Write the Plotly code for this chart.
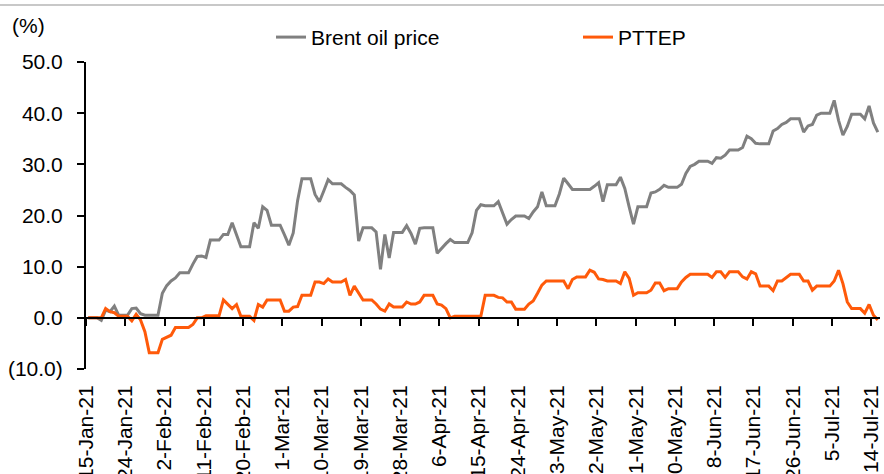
import pandas as pd
import plotly.graph_objects as go

# Daily series (weekends carried), 15-Jan-21 .. 15-Jul-21, rows = Fri..Thu weeks
start_date = "2021-01-15 12:00"
brent = [
    0.0, 0.0, 0.0, -0.5, 1.5, 1.2, 2.3,
    0.5, 0.5, 0.5, 1.8, 1.9, 0.8, 0.5,
    0.5, 0.5, 0.5, 4.8, 6.3, 7.2, 7.8,
    8.8, 8.8, 8.8, 10.5, 12.0, 12.1, 11.8,
    15.2, 15.2, 15.2, 16.3, 16.3, 18.6, 16.2,
    13.9, 13.9, 13.9, 18.6, 17.5, 21.7, 21.0,
    18.1, 18.1, 18.1, 16.2, 14.2, 16.6, 22.9,
    27.2, 27.2, 27.2, 24.1, 22.7, 24.8, 27.0,
    26.2, 26.2, 26.2, 25.5, 24.9, 24.0, 15.0,
    17.6, 17.6, 17.6, 16.8, 9.5, 16.3, 11.7,
    16.7, 16.7, 16.7, 18.0, 16.5, 14.4, 17.5,
    17.6, 17.6, 17.6, 12.6, 13.6, 14.5, 15.3,
    14.7, 14.7, 14.7, 14.7, 16.6, 21.0, 22.1,
    21.9, 21.9, 21.9, 22.7, 20.5, 18.3, 19.2,
    19.9, 19.9, 19.9, 19.4, 20.7, 21.7, 24.6,
    21.9, 21.9, 21.9, 24.2, 27.3, 26.2, 25.1,
    25.1, 25.1, 25.1, 25.1, 25.7, 26.4, 22.7,
    26.0, 26.0, 26.0, 27.5, 25.3, 21.7, 18.3,
    21.7, 21.7, 21.7, 24.4, 24.6, 25.1, 25.9,
    25.5, 25.5, 25.5, 26.1, 28.2, 29.6, 30.0,
    30.6, 30.6, 30.6, 30.2, 31.3, 31.2, 31.8,
    32.8, 32.8, 32.8, 33.3, 35.5, 35.0, 34.1,
    34.0, 34.0, 34.0, 36.5, 37.0, 37.8, 38.2,
    38.9, 38.9, 38.9, 36.3, 37.5, 37.8, 39.6,
    40.0, 40.0, 40.0, 42.5, 38.6, 35.7, 37.4,
    39.8, 39.8, 39.8, 38.9, 41.4, 38.1, 36.3,
]
pttep = [
    0.0, 0.0, 0.0, 0.0, 1.8, 1.2, 1.0,
    0.3, 0.3, 0.3, -0.6, 0.7, -0.4, -2.7,
    -6.8, -6.8, -6.8, -4.2, -3.8, -3.4, -1.9,
    -1.9, -1.9, -1.9, -1.3, 0.0, 0.0, 0.4,
    0.4, 0.4, 0.4, 3.5, 2.7, 1.8, 2.6,
    0.3, 0.3, 0.3, -0.5, 2.6, 2.1, 3.5,
    3.5, 3.5, 3.5, 1.3, 1.3, 2.1, 2.2,
    4.4, 4.4, 4.4, 7.0, 7.0, 6.7, 7.6,
    7.0, 7.0, 7.0, 7.5, 4.4, 6.2, 4.8,
    3.5, 3.5, 3.5, 2.7, 1.7, 1.3, 2.7,
    2.1, 2.1, 2.1, 3.1, 2.7, 2.7, 3.1,
    4.4, 4.4, 4.4, 2.7, 2.5, 1.8, 0.0,
    0.3, 0.3, 0.3, 0.3, 0.3, 0.3, 0.3,
    4.4, 4.4, 4.4, 4.0, 3.9, 3.1, 3.1,
    1.7, 1.7, 1.7, 2.7, 3.3, 4.8, 6.4,
    7.2, 7.2, 7.2, 7.2, 7.2, 5.7, 7.5,
    8.0, 8.0, 8.0, 9.3, 8.9, 7.6, 7.5,
    7.2, 7.2, 7.2, 6.7, 9.0, 7.7, 4.4,
    4.9, 4.9, 4.9, 5.4, 6.8, 6.8, 5.3,
    5.7, 5.7, 5.7, 7.0, 7.9, 8.5, 8.5,
    8.5, 8.5, 8.5, 7.9, 9.0, 9.0, 7.9,
    9.0, 9.0, 9.0, 8.0, 7.6, 9.0, 8.6,
    6.2, 6.2, 6.2, 5.3, 7.2, 7.2, 7.9,
    8.5, 8.5, 8.5, 7.2, 7.2, 5.4, 6.2,
    6.2, 6.2, 6.2, 7.2, 9.3, 6.7, 3.1,
    1.8, 1.8, 1.8, 0.9, 2.6, 0.5, -0.4,
]
x_tick_labels = [
    "15-Jan-21", "24-Jan-21", "2-Feb-21", "11-Feb-21", "20-Feb-21", "1-Mar-21",
    "10-Mar-21", "19-Mar-21", "28-Mar-21", "6-Apr-21", "15-Apr-21", "24-Apr-21",
    "3-May-21", "12-May-21", "21-May-21", "30-May-21", "8-Jun-21", "17-Jun-21",
    "26-Jun-21", "5-Jul-21", "14-Jul-21",
]
y_tick_vals = [-10, 0, 10, 20, 30, 40, 50]
y_tick_text = ["(10.0)", "0.0", "10.0", "20.0", "30.0", "40.0", "50.0"]
series_names = ["Brent oil price", "PTTEP"]

dates = pd.date_range(start_date, periods=len(brent), freq="D")
tick_dates = pd.to_datetime(x_tick_labels, format="%d-%b-%y")

FONT = "Liberation Sans, Arial, sans-serif"
GRAY = "#808080"
ORANGE = "#FF5A0A"

fig = go.Figure()
fig.add_trace(go.Scatter(x=dates, y=brent, mode="lines", name=series_names[0],
                         line=dict(color=GRAY, width=3), xaxis="x", yaxis="y"))
fig.add_trace(go.Scatter(x=dates, y=pttep, mode="lines", name=series_names[1],
                         line=dict(color=ORANGE, width=3), xaxis="x2", yaxis="y"))

x_range = ["2021-01-15", "2021-07-16"]
fig.update_layout(
    width=884, height=474,
    margin=dict(l=86, r=4, t=62, b=105, autoexpand=False),
    paper_bgcolor="white", plot_bgcolor="white",
    font=dict(family=FONT, size=21, color="black"),
    showlegend=True,
    legend=dict(orientation="h", x=0.233, xanchor="left", y=1.08, yanchor="middle",
                font=dict(size=21), entrywidth=262, entrywidthmode="pixels",
                bgcolor="rgba(0,0,0,0)"),
    xaxis=dict(type="date", range=x_range, tickvals=tick_dates, ticktext=x_tick_labels,
               tickangle=-90, ticks="outside", ticklen=7, tickcolor="rgba(0,0,0,0)",
               showline=False, showgrid=False, zeroline=False, automargin=False,
               tickfont=dict(size=21)),
    xaxis2=dict(type="date", range=x_range, overlaying="x", anchor="free",
                position=1/6, side="bottom", tickvals=tick_dates, showticklabels=False,
                ticks="outside", ticklen=7, tickwidth=2, tickcolor="black",
                showline=True, linecolor="black", linewidth=2, automargin=False,
                showgrid=False, zeroline=False, matches="x"),
    yaxis=dict(range=[-10, 50], tickvals=y_tick_vals, ticktext=y_tick_text,
               ticks="outside", ticklen=7, tickwidth=2, tickcolor="black",
               showline=True, linecolor="black", linewidth=2, automargin=False,
               showgrid=False, zeroline=False, ticklabelstandoff=10,
               tickfont=dict(size=21)),
    annotations=[dict(text="(%)", xref="paper", yref="paper", x=-0.096, y=1.12,
                      xanchor="left", yanchor="middle", showarrow=False,
                      font=dict(size=21))],
    shapes=[dict(type="line", xref="paper", yref="paper", x0=-0.2, x1=1.2,
                 y0=1.186, y1=1.186, line=dict(color="#C8C8C8", width=2))],
)

fig.write_html("out.html", config={"displayModeBar": False},
               post_script="document.body.style.margin='0';")
